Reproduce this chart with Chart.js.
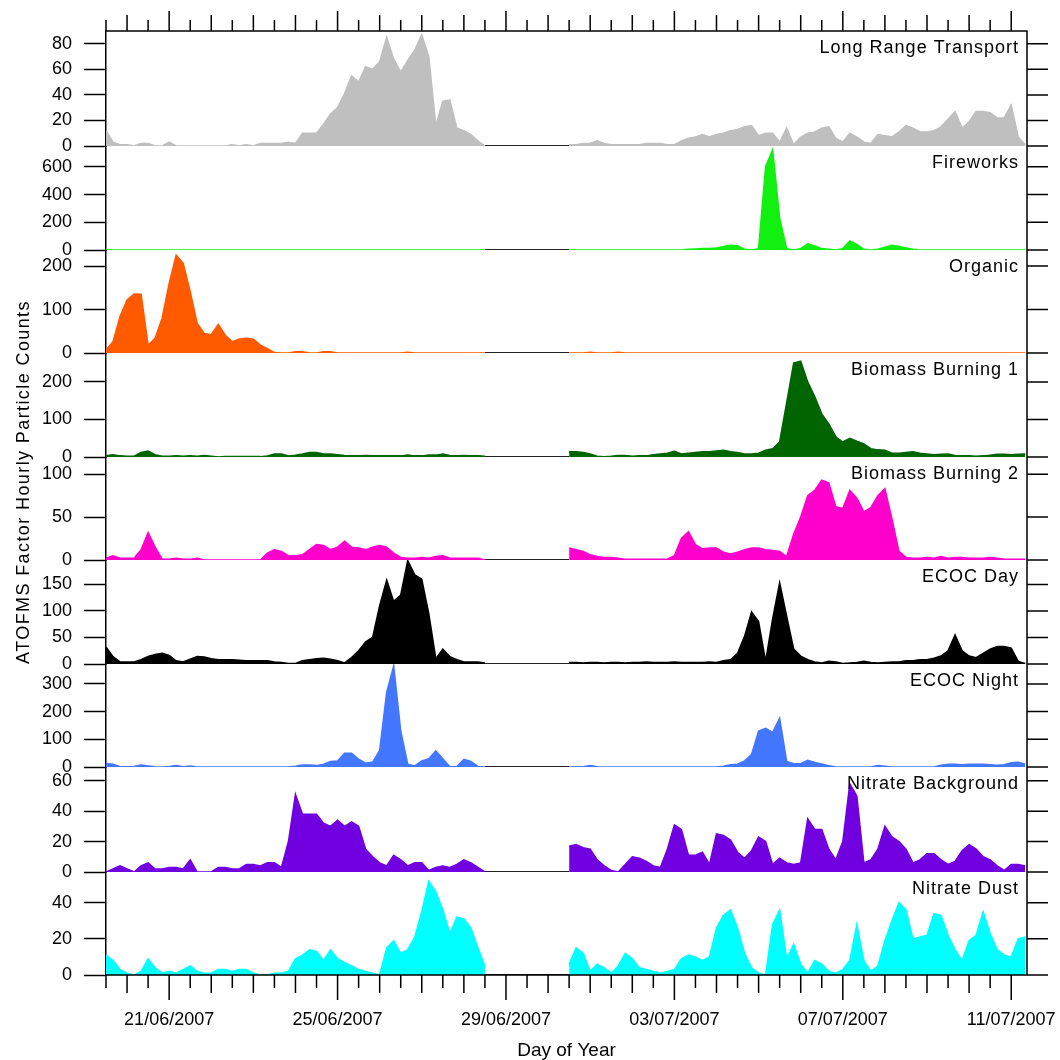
<!DOCTYPE html>
<html>
<head>
<meta charset="utf-8">
<title>ATOFMS factors</title>
<script src="https://cdn.jsdelivr.net/npm/chart.js"></script>
<style>
  html, body { margin: 0; padding: 0; background: #fff; }
  canvas { display: block; }
</style>
</head>
<body>
<canvas id="factorChart" width="1060" height="1060"></canvas>
<script>
// ATOFMS factor counts, read every 4 h starting 19/06/2007 12:00 (rows of 10 = 40 h)
// null = no data (28/06 - 30/06)
const longRange = [
  12, 3, 1, 1, 0, 2, 2, 0, 0, 3,
  0, 0, 0, 0, 0, 0, 0, 0, 1, 0,
  1, 0, 2, 2, 2, 2, 3, 2, 10, 10,
  10, 17, 25, 30, 41, 55, 50, 62, 60, 66,
  85, 68, 58, 67, 75, 87, 70, 16, 35, 36,
  14, 12, 9, 4, 0, null, null, null, null, null,
  null, null, null, null, null, null, 1, 1, 2, 2,
  4, 2, 1, 1, 1, 1, 1, 2, 2, 2,
  1, 1, 4, 6, 7, 9, 7, 9, 10, 12,
  13, 15, 16, 8, 10, 10, 3, 14, 1, 7,
  10, 11, 14, 15, 6, 3, 10, 7, 3, 2,
  9, 8, 7, 11, 16, 14, 11, 11, 12, 15,
  21, 27, 14, 19, 27, 27, 26, 22, 22, 32,
  7, 1
];
const fireworks = [
  0, 0, 0, 0, 0, 0, 0, 0, 0, 0,
  0, 0, 0, 0, 0, 0, 0, 0, 0, 0,
  0, 0, 0, 0, 0, 0, 0, 0, 0, 0,
  0, 0, 0, 0, 0, 0, 0, 0, 0, 0,
  0, 0, 0, 0, 0, 0, 0, 0, 0, 0,
  0, 0, 0, 0, 0, null, null, null, null, null,
  null, null, null, null, null, null, 0, 0, 0, 0,
  0, 0, 0, 0, 0, 0, 0, 0, 0, 0,
  0, 0, 0, 5, 8, 10, 10, 15, 25, 35,
  30, 5, 0, 10, 600, 722, 230, 10, 0, 10,
  45, 30, 10, 5, 0, 10, 65, 40, 5, 0,
  5, 20, 35, 25, 15, 5, 0, 0, 0, 0,
  0, 0, 0, 0, 0, 0, 0, 0, 0, 0,
  0, 0
];
const organic = [
  7, 26, 84, 122, 136, 135, 18, 34, 80, 160,
  225, 206, 141, 68, 45, 42, 66, 41, 26, 32,
  34, 32, 18, 10, 1, 0, 0, 3, 3, 0,
  0, 3, 3, 0, 0, 0, 0, 0, 0, 0,
  0, 0, 0, 2, 0, 0, 0, 0, 0, 0,
  0, 0, 0, 0, 0, null, null, null, null, null,
  null, null, null, null, null, null, 0, 0, 0, 2,
  0, 0, 0, 2, 0, 0, 0, 0, 0, 0,
  0, 0, 0, 0, 0, 0, 0, 0, 0, 0,
  0, 0, 0, 0, 0, 0, 0, 0, 0, 0,
  0, 0, 0, 0, 0, 0, 0, 0, 0, 0,
  0, 0, 0, 0, 0, 0, 0, 0, 0, 0,
  0, 0, 0, 0, 0, 0, 0, 0, 0, 0,
  0, 0
];
const biomass1 = [
  3, 6, 3, 2, 2, 12, 16, 6, 2, 2,
  3, 2, 3, 2, 4, 2, 0, 1, 1, 1,
  1, 1, 1, 3, 8, 8, 3, 5, 8, 12,
  12, 8, 8, 6, 4, 3, 3, 4, 3, 3,
  3, 3, 3, 5, 3, 3, 5, 5, 8, 4,
  3, 4, 3, 3, 2, null, null, null, null, null,
  null, null, null, null, null, null, 14, 14, 12, 8,
  2, 1, 2, 4, 4, 2, 3, 3, 6, 8,
  10, 15, 8, 10, 12, 14, 14, 16, 18, 14,
  12, 8, 8, 10, 18, 22, 40, 145, 250, 255,
  200, 161, 115, 88, 54, 40, 50, 42, 35, 22,
  19, 18, 10, 10, 12, 14, 10, 8, 6, 7,
  8, 4, 3, 3, 2, 3, 5, 7, 7, 6,
  7, 8
];
const biomass2 = [
  2, 5, 2, 2, 2, 12, 32, 15, 1, 1,
  2, 1, 1, 2, 0, 0, 0, 0, 0, 0,
  0, 0, 0, 8, 12, 10, 5, 5, 6, 12,
  18, 17, 12, 15, 22, 15, 14, 12, 15, 17,
  15, 8, 3, 2, 2, 3, 2, 4, 5, 2,
  2, 2, 2, 2, 0, null, null, null, null, null,
  null, null, null, null, null, null, 14, 12, 10, 6,
  4, 3, 3, 2, 1, 1, 1, 1, 1, 1,
  1, 5, 25, 33, 18, 13, 14, 14, 9, 7,
  9, 12, 14, 14, 12, 11, 10, 4, 30, 50,
  75, 81, 93, 90, 62, 60, 81, 72, 56, 61,
  75, 83, 48, 10, 3, 2, 2, 3, 2, 4,
  2, 3, 3, 2, 2, 2, 3, 2, 1, 1,
  1, 1
];
const ecocDay = [
  32, 14, 4, 4, 4, 8, 14, 18, 20, 16,
  6, 4, 9, 14, 13, 10, 8, 8, 8, 7,
  6, 6, 6, 6, 4, 3, 1, 1, 6, 8,
  10, 11, 9, 6, 2, 12, 25, 42, 50, 110,
  158, 118, 130, 195, 168, 160, 95, 10, 28, 14,
  8, 4, 4, 4, 2, null, null, null, null, null,
  null, null, null, null, null, null, 3, 3, 2, 3,
  3, 2, 3, 3, 2, 3, 3, 4, 3, 3,
  3, 4, 3, 3, 3, 3, 4, 3, 6, 8,
  20, 52, 98, 80, 5, 85, 153, 90, 28, 15,
  8, 4, 2, 5, 4, 1, 2, 3, 5, 3,
  2, 3, 4, 4, 6, 6, 8, 8, 11, 15,
  25, 55, 25, 15, 12, 20, 28, 33, 33, 30,
  5, 1
];
const ecocNight = [
  13, 10, 1, 1, 2, 7, 4, 1, 0, 2,
  5, 1, 4, 0, 0, 0, 0, 0, 0, 0,
  0, 0, 0, 0, 0, 0, 0, 3, 7, 7,
  5, 10, 20, 22, 50, 50, 28, 14, 18, 60,
  270, 365, 130, 10, 4, 22, 30, 58, 30, 1,
  2, 28, 20, 2, 0, null, null, null, null, null,
  null, null, null, null, null, null, 0, 1, 1, 5,
  1, 0, 0, 0, 0, 0, 0, 0, 0, 0,
  0, 0, 0, 0, 0, 0, 0, 0, 3, 8,
  10, 22, 45, 130, 140, 125, 176, 20, 12, 12,
  24, 16, 11, 5, 0, 0, 0, 0, 0, 0,
  5, 3, 0, 0, 0, 0, 0, 0, 0, 6,
  10, 10, 8, 10, 10, 10, 8, 6, 8, 15,
  17, 10
];
const nitrateBg = [
  0, 2, 4, 2, 0, 4, 6, 2, 2, 3,
  3, 2, 8, 0, 0, 0, 3, 3, 2, 2,
  5, 5, 4, 6, 6, 3, 20, 51, 38, 38,
  38, 32, 30, 34, 30, 33, 30, 15, 10, 6,
  4, 11, 8, 4, 6, 6, 1, 3, 4, 3,
  5, 8, 6, 3, 0, null, null, null, null, null,
  null, null, null, null, null, null, 17, 18, 16, 15,
  8, 4, 1, 0, 5, 10, 9, 7, 4, 3,
  15, 31, 28, 11, 11, 13, 5, 25, 24, 21,
  13, 9, 14, 23, 20, 5, 9, 6, 5, 6,
  35, 28, 28, 15, 8, 20, 58, 50, 6, 8,
  15, 30, 23, 20, 15, 6, 8, 12, 12, 8,
  5, 7, 14, 18, 15, 10, 8, 4, 1, 5,
  5, 4
];
const nitrateDust = [
  11, 8, 3, 1, 0, 2, 9, 4, 1, 2,
  1, 3, 5, 2, 1, 1, 3, 3, 2, 3,
  3, 1, 0, 0, 1, 1, 2, 9, 11, 14,
  13, 8, 14, 9, 7, 5, 3, 2, 1, 0,
  15, 19, 12, 14, 21, 35, 52, 46, 36, 23,
  32, 31, 26, 15, 5, null, null, null, null, null,
  null, null, null, null, null, null, 6, 15, 12, 2,
  6, 4, 1, 5, 12, 9, 4, 3, 2, 1,
  2, 3, 9, 11, 10, 8, 10, 26, 33, 36,
  26, 12, 4, 1, 0, 28, 36, 9, 17, 6,
  1, 8, 6, 2, 1, 3, 8, 28, 8, 2,
  5, 19, 30, 40, 36, 20, 21, 22, 34, 33,
  22, 14, 8, 19, 22, 35, 23, 14, 11, 10,
  20, 21
];

const factorNames = ['Long Range Transport', 'Fireworks', 'Organic', 'Biomass Burning 1',
  'Biomass Burning 2', 'ECOC Day', 'ECOC Night', 'Nitrate Background', 'Nitrate Dust'];
const yMax = [90, 750, 237, 277, 120, 196, 372, 69, 57];
const yStep = [20, 200, 100, 100, 50, 50, 100, 20, 20];

// x in hours since 19/06/2007 00:00
const START_H = 12, STEP_H = 4, END_H = 537;
const hours = longRange.map((_, i) => START_H + i * STEP_H);

// black line shown where no data was collected
const gapLine = longRange.map((v, i, a) =>
  (v === null || a[i - 1] === null || a[i + 1] === null) ? 0 : null);

const panels = [
  { values: longRange, color: '#BFBFBF', weight: 115 },
  { values: fireworks, color: '#11F011', weight: 104 },
  { values: organic, color: '#FF5A00', weight: 103 },
  { values: biomass1, color: '#006400', weight: 104 },
  { values: biomass2, color: '#FF00CC', weight: 103 },
  { values: ecocDay, color: '#000000', weight: 104 },
  { values: ecocNight, color: '#4477FF', weight: 103 },
  { values: nitrateBg, color: '#7000E0', weight: 105 },
  { values: nitrateDust, color: '#00FFFF', weight: 103 }
];

const FONT = '"Liberation Sans", Arial, sans-serif';
Chart.defaults.font.family = FONT;
Chart.defaults.font.size = 18;
Chart.defaults.color = '#000';

function dateLabel(h) {
  let d = 19 + h / 24, m = '06';
  if (d > 30) { d -= 30; m = '07'; }
  return String(d).padStart(2, '0') + '/' + m + '/2007';
}

const datasets = [];
const scales = {
  x: {
    type: 'linear',
    position: 'bottom',
    min: START_H,
    max: END_H,
    grid: { display: false, drawTicks: false },
    border: { display: false },
    ticks: {
      stepSize: 12,
      autoSkip: false,
      maxRotation: 0,
      includeBounds: false,
      padding: 34,
      callback: v => ((v - 48) % 96 === 0 ? dateLabel(v) : '')
    },
    title: {
      display: true,
      text: 'Day of Year',
      font: { size: 19, lineHeight: 1 },
      padding: { top: 0, bottom: 0 }
    },
    afterFit: s => {
      s.height = 85;
      s.paddingLeft = 0;
      s.paddingRight = 0;
    }
  }
};

panels.forEach((p, k) => {
  const id = 'y' + k;
  datasets.push({
    data: p.values,
    yAxisID: id,
    borderColor: p.color,
    backgroundColor: p.color,
    borderWidth: 1.5,
    pointRadius: 0,
    tension: 0,
    fill: 'origin'
  });
  datasets.push({
    data: gapLine,
    yAxisID: id,
    borderColor: '#222',
    borderWidth: 2,
    pointRadius: 0,
    fill: false
  });
  scales[id] = {
    type: 'linear',
    position: 'left',
    stack: 'panels',
    stackWeight: p.weight,
    weight: panels.length - k,
    offset: false,
    min: 0,
    max: yMax[k],
    grid: { drawOnChartArea: false, drawTicks: true, tickLength: 22, tickColor: '#000', tickWidth: 1.5 },
    border: { display: true, color: '#000', width: 1.5 },
    ticks: { stepSize: yStep[k], includeBounds: false, autoSkip: false, padding: 12 },
    afterFit: s => {
      s.width = 80;
      s.paddingTop = 0;
      s.paddingBottom = 0;
    }
  };
});

// frame, top/right tick marks, panel names and the y title
const framePlugin = {
  id: 'frame',
  afterDraw(chart) {
    const { ctx, chartArea: a } = chart;
    const x = chart.scales.x;
    ctx.save();
    ctx.strokeStyle = '#000';
    ctx.lineWidth = 1.5;
    ctx.beginPath();
    ctx.moveTo(a.left, a.top); ctx.lineTo(a.right, a.top);
    ctx.lineTo(a.right, a.bottom); ctx.lineTo(a.left, a.bottom);
    x.ticks.forEach(t => {
      const px = x.getPixelForValue(t.value);
      const major = (t.value - 48) % 96 === 0;
      const day = t.value % 24 === 0;
      const up = major ? 20 : day ? 16 : 11;
      const down = major ? 25 : day ? 18 : 13;
      ctx.moveTo(px, a.top - up); ctx.lineTo(px, a.top);
      ctx.moveTo(px, a.bottom); ctx.lineTo(px, a.bottom + down);
    });
    panels.forEach((p, k) => {
      const s = chart.scales['y' + k];
      s.ticks.forEach(t => {
        const py = s.getPixelForValue(t.value);
        ctx.moveTo(a.right, py); ctx.lineTo(a.right + 21, py);
      });
    });
    ctx.stroke();

    ctx.fillStyle = '#000';
    ctx.font = '18px ' + FONT;
    if ('letterSpacing' in ctx) ctx.letterSpacing = '1px';
    ctx.textAlign = 'right';
    ctx.textBaseline = 'middle';
    factorNames.forEach((name, k) => {
      const s = chart.scales['y' + k];
      ctx.fillText(name, a.right - 8, s.top + 17);
    });

    if ('letterSpacing' in ctx) ctx.letterSpacing = '1.4px';
    ctx.translate(24, 482);
    ctx.rotate(-Math.PI / 2);
    ctx.textAlign = 'center';
    ctx.fillText('ATOFMS Factor Hourly Particle Counts', 0, 0);
    ctx.restore();
  }
};

new Chart(document.getElementById('factorChart'), {
  type: 'line',
  data: { labels: hours, datasets },
  options: {
    responsive: false,
    animation: false,
    events: [],
    layout: { padding: { left: 26, right: 33, top: 31, bottom: 0 } },
    plugins: { legend: { display: false }, tooltip: { enabled: false } },
    scales
  },
  plugins: [framePlugin]
});
</script>
</body>
</html>
